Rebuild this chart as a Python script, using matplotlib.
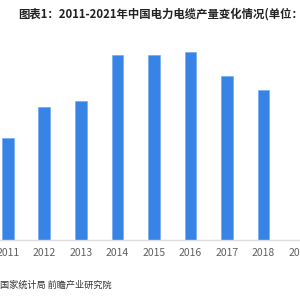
import matplotlib.pyplot as plt

plt.rcParams["font.family"] = ["Noto Sans CJK SC", "DejaVu Sans"]

years = ["2011", "2012", "2013", "2014", "2015", "2016", "2017", "2018", "2019"]
output = [102, 133, 139, 185, 185, 188, 164, 150]

TITLE = "图表1：2011-2021年中国电力电缆产量变化情况(单位："
SOURCE = "国家统计局 前瞻产业研究院"


def create_plot():
    fig = plt.figure(figsize=(3, 3), dpi=100)
    ax = fig.add_axes([0, 0.2, 1, 0.667])

    ax.bar(range(len(output)), output, width=0.32, color="#3784e6",
           edgecolor="#6aa6f0", linewidth=0.4)

    ax.set_xlim(-0.213, 7.77)
    ax.set_ylim(0, 200)
    ax.set_xticks(range(len(years)))
    ax.set_xticklabels(years, fontsize=7.5, color="#606060")
    ax.tick_params(axis="x", length=0, pad=6)
    ax.set_yticks([])
    for side in ["left", "right", "top"]:
        ax.spines[side].set_visible(False)
    ax.spines["bottom"].set_color("#dddddd")
    ax.spines["bottom"].set_linewidth(1)

    fig.text(18 / 300, 1 - 14 / 300, TITLE, fontsize=8.2, fontweight="bold",
             color="#222222", va="center", ha="left")
    fig.text(0, 1 - 285 / 300, SOURCE, fontsize=6.6, color="#333333",
             va="center", ha="left")

    fig.savefig("out.png", dpi=100)


if __name__ == "__main__":
    create_plot()
